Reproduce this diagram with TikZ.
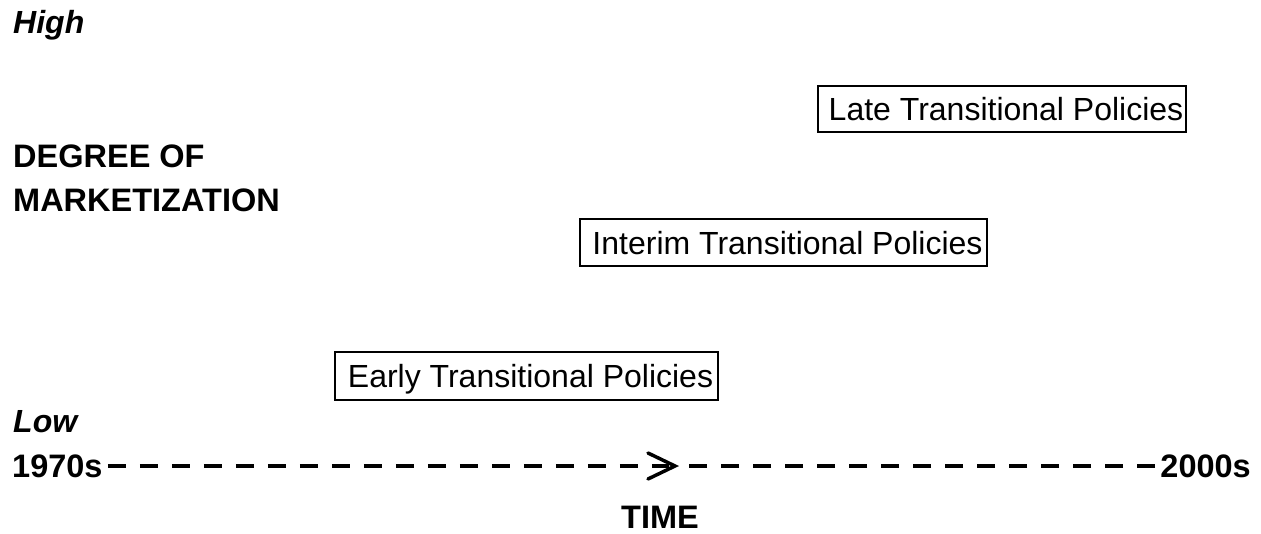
\documentclass[tikz,border=0pt]{standalone}
\usepackage{fontspec}
\setmainfont{Liberation Sans}
\usetikzlibrary{calc}
\begin{document}
\begin{tikzpicture}[x=1pt,y=-1pt,
  lbl/.style={anchor=base west,inner sep=0pt,font=\fontsize{32.5}{38}\selectfont\bfseries},
  ilbl/.style={lbl,font=\fontsize{32}{38}\selectfont\bfseries\itshape},
  policy/.style={draw,line width=2.4pt,inner sep=0pt,text height=23pt,text depth=0pt,
    font=\fontsize{32}{38}\selectfont},
  axis/.style={line width=4pt,dash pattern=on 18pt off 14pt},
  chev/.style={line width=3.5pt,line cap=round,line join=miter}]
\useasboundingbox (0,0) rectangle (1261,533);
\node[ilbl] (high) at (13,33) {High};
\node[lbl] (deg) at (13,167) {DEGREE OF};
\node[lbl] (mkt) at (13,211) {MARKETIZATION};
\node[ilbl] (low) at (13,432) {Low};
\node[policy,minimum width=368pt,minimum height=46pt] (late) at (1002,109) {\hspace*{8pt}Late Transitional Policies};
\node[policy,minimum width=407pt,minimum height=47pt] (interim) at (783.5,242.5) {\hspace*{8pt}Interim Transitional Policies};
\node[policy,minimum width=383pt,minimum height=48pt] (early) at (526.5,376) {\hspace*{8pt}Early Transitional Policies};
\node[lbl] (t0) at (12,477) {1970s};
\node[lbl,anchor=base east] (t1) at (1251,477) {2000s};
\node[lbl] (time) at (621,528) {TIME};
\coordinate (tip) at (675,466);
\draw[axis] ($(t0.east |- tip)+(5,0)$) -- ($(tip)+(-6,0)$);
\draw[axis] ($(t1.west |- tip)+(-5,0)$) -- ($(tip)+(6,0)$);
\draw[chev] ($(tip)+(-27,-13)$) -- (tip) -- ($(tip)+(-27,13)$);
\end{tikzpicture}
\end{document}
